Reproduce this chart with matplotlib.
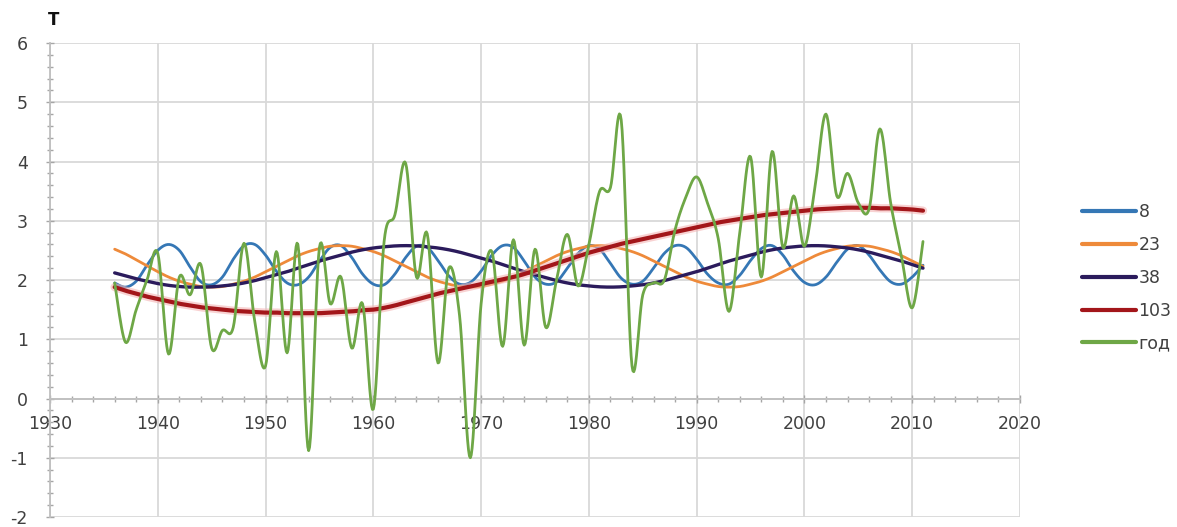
import numpy as np
import matplotlib
matplotlib.use("Agg")
import matplotlib.pyplot as plt
import matplotlib.patheffects as pe
from matplotlib.ticker import MultipleLocator

plt.rcParams["axes.unicode_minus"] = False

years = list(range(1936, 2012))

# 8-year component
s8 = [1.95, 1.88, 1.98, 2.25, 2.50, 2.60, 2.50, 2.22, 1.97, 1.92,
      2.05, 2.35, 2.58, 2.60, 2.42, 2.15, 1.95, 1.92, 2.05, 2.32,
      2.55, 2.58, 2.38, 2.10, 1.93, 1.92, 2.10, 2.38, 2.57, 2.55,
      2.33, 2.07, 1.93, 1.96, 2.15, 2.42, 2.58, 2.55, 2.32, 2.05,
      1.93, 1.97, 2.20, 2.45, 2.58, 2.52, 2.28, 2.03, 1.93, 1.98,
      2.20, 2.45, 2.58, 2.55, 2.35, 2.10, 1.95, 1.93, 2.08, 2.33,
      2.53, 2.58, 2.42, 2.15, 1.96, 1.92, 2.05, 2.30, 2.52, 2.58,
      2.42, 2.17, 1.97, 1.93, 2.05, 2.25]

# 23-year component
s23 = [2.52, 2.44, 2.34, 2.24, 2.14, 2.05, 1.98, 1.93, 1.89, 1.88,
       1.89, 1.93, 1.98, 2.05, 2.14, 2.23, 2.32, 2.41, 2.48, 2.53,
       2.57, 2.58, 2.57, 2.53, 2.48, 2.41, 2.32, 2.23, 2.14, 2.05,
       1.98, 1.93, 1.89, 1.88, 1.89, 1.93, 1.98, 2.05, 2.14, 2.23,
       2.32, 2.41, 2.48, 2.53, 2.57, 2.58, 2.57, 2.53, 2.48, 2.41,
       2.32, 2.23, 2.14, 2.05, 1.98, 1.93, 1.89, 1.88, 1.89, 1.93,
       1.98, 2.05, 2.14, 2.23, 2.32, 2.41, 2.48, 2.53, 2.57, 2.58,
       2.57, 2.53, 2.48, 2.41, 2.32, 2.23]

# 38-year component
s38 = [2.12, 2.07, 2.02, 1.98, 1.94, 1.91, 1.89, 1.88, 1.88, 1.885,
       1.90, 1.92, 1.95, 1.99, 2.04, 2.09, 2.14, 2.20, 2.26, 2.32,
       2.37, 2.42, 2.47, 2.51, 2.54, 2.56, 2.575, 2.58, 2.575, 2.56,
       2.54, 2.51, 2.47, 2.42, 2.37, 2.32, 2.26, 2.20, 2.14, 2.09,
       2.04, 1.99, 1.95, 1.92, 1.90, 1.885, 1.88, 1.885, 1.90, 1.92,
       1.95, 1.99, 2.04, 2.09, 2.14, 2.20, 2.26, 2.32, 2.37, 2.42,
       2.47, 2.51, 2.54, 2.56, 2.575, 2.58, 2.575, 2.56, 2.54, 2.51,
       2.47, 2.42, 2.37, 2.32, 2.26, 2.20]

# 103-year component
s103 = [1.88, 1.82, 1.77, 1.72, 1.68, 1.64, 1.60, 1.57, 1.54, 1.52,
        1.50, 1.48, 1.47, 1.46, 1.45, 1.45, 1.44, 1.44, 1.44, 1.44,
        1.45, 1.46, 1.47, 1.49, 1.50, 1.53, 1.57, 1.62, 1.67, 1.72,
        1.77, 1.81, 1.85, 1.89, 1.93, 1.97, 2.01, 2.05, 2.10, 2.16,
        2.22, 2.28, 2.34, 2.40, 2.46, 2.51, 2.56, 2.61, 2.65, 2.69,
        2.73, 2.77, 2.81, 2.85, 2.89, 2.93, 2.97, 3.00, 3.03, 3.06,
        3.09, 3.11, 3.13, 3.15, 3.17, 3.19, 3.20, 3.21, 3.22, 3.22,
        3.22, 3.21, 3.21, 3.20, 3.19, 3.17]

# annual values
god = [1.95, 0.95, 1.50, 2.00, 2.45, 0.75, 2.05, 1.75, 2.26, 0.85,
       1.15, 1.20, 2.62, 1.30, 0.55, 2.48, 0.77, 2.60, -0.88, 2.55,
       1.60, 2.05, 0.85, 1.60, -0.18, 2.65, 3.10, 3.97, 2.05, 2.78,
       0.60, 2.20, 1.40, -1.00, 1.60, 2.48, 0.88, 2.68, 0.90, 2.52,
       1.20, 2.00, 2.77, 1.90, 2.60, 3.50, 3.56, 4.70, 0.55, 1.75,
       1.95, 2.00, 2.85, 3.40, 3.74, 3.30, 2.70, 1.47, 2.80, 4.08,
       2.05, 4.17, 2.55, 3.42, 2.57, 3.60, 4.80, 3.42, 3.80, 3.30,
       3.20, 4.55, 3.30, 2.40, 1.53, 2.65]

labels = ["8", "23", "38", "103", "год"]
colors = ["#3577B5", "#EE8A3A", "#2B1B5C", "#A3161A", "#6EA746"]
widths = [2.0, 2.0, 2.4, 3.0, 2.0]


def smooth_xy(x, y, steps=12):
    """Bezier smoothing through every point, the way spreadsheet 'smoothed lines' do it."""
    x = np.asarray(x, float)
    y = np.asarray(y, float)
    px = np.concatenate([[x[0]], x, [x[-1]]])
    py = np.concatenate([[y[0]], y, [y[-1]]])
    out_x, out_y = [], []
    t = np.linspace(0, 1, steps, endpoint=False)
    for i in range(1, len(px) - 2):
        p0 = np.array([px[i], py[i]])
        p3 = np.array([px[i + 1], py[i + 1]])
        c1 = p0 + (p3 - np.array([px[i - 1], py[i - 1]])) / 6.0
        c2 = p3 - (np.array([px[i + 2], py[i + 2]]) - p0) / 6.0
        b = ((1 - t) ** 3)[:, None] * p0 + (3 * (1 - t) ** 2 * t)[:, None] * c1 \
            + (3 * (1 - t) * t ** 2)[:, None] * c2 + (t ** 3)[:, None] * p3
        out_x.extend(b[:, 0])
        out_y.extend(b[:, 1])
    out_x.append(x[-1])
    out_y.append(y[-1])
    return np.array(out_x), np.array(out_y)


fig = plt.figure(figsize=(11.77, 5.27), dpi=100)
ax = fig.add_axes([50 / 1177, 1 - 517 / 527, 970 / 1177, 474 / 527])

series = [s8, s23, s38, s103, god]
for vals, lab, col, lw in zip(series, labels, colors, widths):
    sx, sy = smooth_xy(years, vals)
    line, = ax.plot(sx, sy, color=col, lw=lw, label=lab, solid_capstyle="round", zorder=3)
    if lab == "103":
        line.set_path_effects([pe.Stroke(linewidth=lw + 3, foreground="#F4B4B4", alpha=0.6), pe.Normal()])

ax.set_xlim(1930, 2020)
ax.set_ylim(-2, 6)

ax.xaxis.set_major_locator(MultipleLocator(10))
ax.xaxis.set_minor_locator(MultipleLocator(2))
ax.yaxis.set_major_locator(MultipleLocator(1))
ax.yaxis.set_minor_locator(MultipleLocator(0.2))

ax.grid(True, which="major", color="#D9D9D9", lw=1.3, zorder=0)
ax.set_axisbelow(True)

for side in ("top", "right"):
    ax.spines[side].set_visible(False)
ax.spines["bottom"].set_position(("data", 0))
ax.spines["bottom"].set_color("#BFBFBF")
ax.spines["left"].set_color("#BFBFBF")
ax.spines["bottom"].set_linewidth(1.3)
ax.spines["left"].set_linewidth(1.3)

ax.tick_params(axis="both", which="both", direction="inout", color="#A6A6A6", width=1)
ax.tick_params(axis="both", which="major", length=6, labelsize=12.5, labelcolor="#404040")
ax.tick_params(axis="both", which="minor", length=4)
ax.tick_params(axis="x", which="major", pad=9)
ax.tick_params(axis="y", which="major", pad=13)

fig.text(54 / 1177, 1 - 20 / 527, "T", ha="center", va="center",
         fontsize=12, fontweight="bold", color="#111111")

leg = ax.legend(loc="center left", bbox_to_anchor=(1082 / 1177, 1 - 278 / 527),
                bbox_transform=fig.transFigure, frameon=False, fontsize=12.5,
                handlelength=3.1, handletextpad=0.15, labelspacing=0.85,
                borderpad=0, borderaxespad=0, labelcolor="#404040")
for h in leg.legend_handles:
    h.set_linewidth(3)
    h.set_path_effects([])

fig.savefig("out.png", dpi=100)
